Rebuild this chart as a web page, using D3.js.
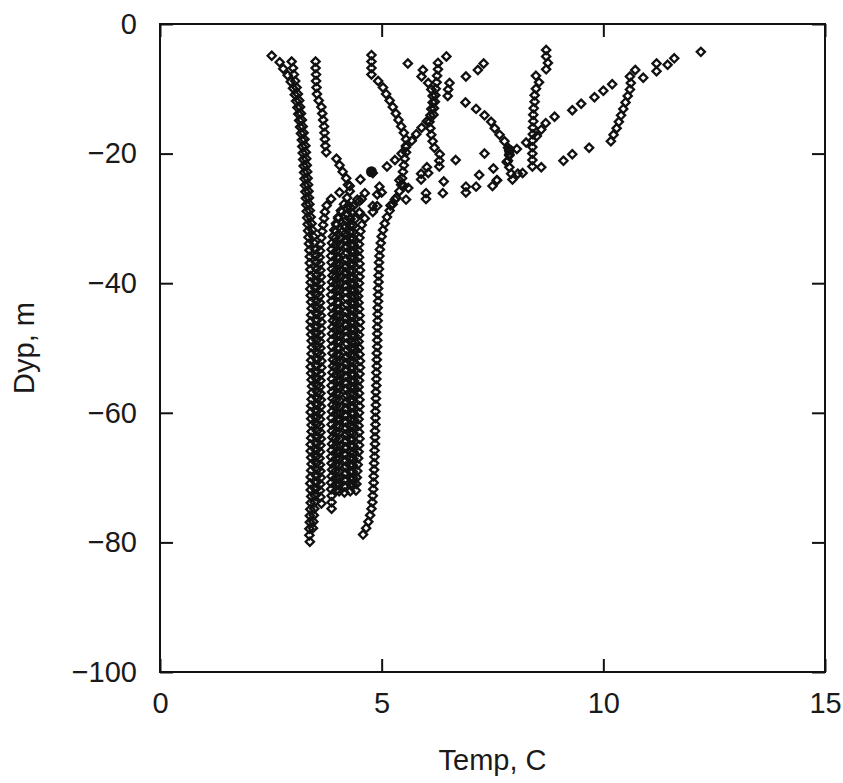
<!DOCTYPE html>
<html>
<head>
<meta charset="utf-8">
<script src="https://cdn.jsdelivr.net/npm/d3@7/dist/d3.min.js"></script>
<style>
  body { margin: 0; background: #fff; }
  text { font-family: "Liberation Sans", Arial, Helvetica, sans-serif; fill: #1a1a1a; }
</style>
</head>
<body>
<svg id="chart" width="843" height="783"></svg>
<script>
// CTD profiles: temperature (C) at 1 m bins, first bin at depth d0 (m)
const p1 = { d0: 4.9, temps: [
  2.52,2.70,2.78,2.88,2.95,3.00,3.04,3.07,3.10,3.12,3.14,3.16,3.18,3.20,3.21,3.22,3.23,3.24,3.25,3.26,
  3.27,3.28,3.29,3.30,3.31,3.32,3.33,3.34,3.35,3.36,
  3.37,3.38,3.38,3.39,3.40,3.40,3.39,3.40,3.41,3.42,3.41,3.40,3.40,3.41,3.42,3.43,3.42,3.41,3.40,3.41,
  3.42,3.43,3.43,3.42,3.41,3.40,3.41,3.42,3.42,3.41,3.40,3.40,3.41,3.42,3.41,3.40,3.39,3.40,3.41,3.40,
  3.39,3.38,3.38,3.37,3.37,3.38] };

const p2 = { d0: 5.8, temps: [
  2.97,3.00,3.02,3.05,3.08,3.11,3.14,3.16,3.18,3.20,3.22,3.24,3.26,3.28,3.29,3.30,3.31,3.32,3.33,3.34,
  3.35,3.36,3.37,3.38,3.40,3.42,3.44,3.46,3.48,3.50,
  3.51,3.52,3.53,3.53,3.52,3.51,3.52,3.53,3.54,3.54,3.53,3.52,3.52,3.53,3.54,3.55,3.54,3.53,3.52,3.53,
  3.54,3.55,3.55,3.54,3.53,3.52,3.53,3.54,3.54,3.53,3.52,3.52,3.53,3.54,3.53,3.52,3.51,3.50,3.49,3.48,
  3.47,3.46,3.45] };

const q1 = { d0: 5.0, temps: [
  6.46,6.27,6.27,6.25,6.24,6.22,6.21,6.20,6.18,6.17,6.02,5.90,5.78,5.68,5.55,5.45,5.30,5.12,4.80,4.52,
  4.28,4.05,3.86,3.76,3.72,3.70,3.68,3.66,3.64,3.62,
  3.61,3.60,3.61,3.62,3.63,3.62,3.61,3.60,3.61,3.62,3.63,3.64,3.63,3.62,3.61,3.62,3.63,3.64,3.64,3.63,
  3.62,3.61,3.62,3.63,3.63,3.62,3.61,3.61,3.62,3.63,3.62,3.61,3.60,3.61,3.62,3.63,3.62,3.61,3.62,3.64] };

const p3 = { d0: 5.8, temps: [
  3.51,3.51,3.52,3.52,3.53,3.54,3.58,3.64,3.66,3.68,3.70,3.71,3.72,3.73,3.75,3.98,4.05,4.12,4.20,4.24,
  4.28,4.22,4.15,4.08,4.02,3.97,3.93,3.90,3.88,
  3.87,3.86,3.87,3.88,3.89,3.88,3.87,3.86,3.87,3.88,3.89,3.90,3.89,3.88,3.87,3.88,3.89,3.90,3.90,3.89,
  3.88,3.87,3.88,3.89,3.89,3.88,3.87,3.87,3.88,3.89,3.88,3.87,3.86,3.87,3.88,3.87,3.86,3.86,3.87,3.87,
  3.87] };

const p4 = { d0: 4.8, temps: [
  4.77,4.77,4.77,4.77,4.92,5.03,5.10,5.18,5.25,5.32,5.38,5.44,5.50,5.55,5.55,5.55,5.52,5.50,5.48,5.46,
  5.44,5.40,5.33,5.25,5.18,5.12,5.07,5.03,5.00,4.98,4.96,
  4.95,4.94,4.94,4.93,4.93,4.92,4.92,4.92,4.91,4.91,4.91,4.90,4.90,4.90,4.90,4.89,4.89,4.89,4.88,4.88,
  4.88,4.87,4.87,4.87,4.86,4.86,4.86,4.85,4.85,4.85,4.84,4.84,4.83,4.83,4.82,4.82,4.81,4.80,4.79,4.77,
  4.74,4.70,4.65,4.58] };

const p5 = { d0: 6.1, temps: [
  5.59,5.93,5.90,6.05,6.12,6.15,6.15,6.12,6.10,6.08,6.10,6.12,6.15,6.19,6.31,6.30,6.02,5.89,5.40,4.95,
  4.62,4.45,4.36,4.32,4.30,
  4.29,4.28,4.29,4.30,4.31,4.30,4.29,4.28,4.29,4.30,4.31,4.32,4.31,4.30,4.29,4.30,4.31,4.32,4.32,4.31,
  4.30,4.29,4.30,4.31,4.31,4.30,4.29,4.29,4.30,4.31,4.30,4.29,4.28,4.29,4.30,4.29,4.28,4.28,4.29,4.30,
  4.30,4.29] };

const r1 = { d0: 6.1, temps: [
  7.30,7.17,6.90,6.53,6.50,6.49,6.89,7.13,7.32,7.47,7.55,7.66,7.77,7.85,7.88,7.85,7.88,7.92,7.60,7.13,
  6.38,5.55,4.90,4.50,4.28,4.15,4.10,4.08,
  4.07,4.06,4.05,4.06,4.07,4.08,4.07,4.06,4.05,4.04,4.05,4.06,4.07,4.08,4.07,4.06,4.05,4.06,4.07,4.08,
  4.08,4.07,4.06,4.05,4.06,4.07,4.07,4.06,4.05,4.05,4.06,4.07,4.06,4.05,4.04,4.05,4.06,4.05,4.04] };

const s1 = { d0: 4.0, temps: [
  8.71,8.71,8.75,8.71,8.48,8.55,8.48,8.45,8.45,8.43,8.42,8.42,8.41,8.41,8.40,8.40,8.40,8.40,8.40,8.18,
  7.95,7.50,6.90,6.00,5.20,4.80,4.62,4.55,4.52,
  4.50,4.49,4.48,4.49,4.50,4.51,4.50,4.49,4.48,4.47,4.48,4.49,4.50,4.51,4.50,4.49,4.48,4.49,4.50,4.51,
  4.51,4.50,4.49,4.48,4.49,4.50,4.50,4.49,4.48,4.48,4.49,4.50,4.49,4.48,4.47,4.46,4.45,4.44,4.43,4.42] };

const t1 = { d0: 4.3, temps: [
  12.20,11.60,11.45,11.20,10.90,10.20,10.00,9.80,9.50,9.30,8.90,8.70,8.60,8.50,8.26,8.05,7.88,7.82,7.52,7.20,
  6.40,5.60,4.90,4.50,4.30,4.22,4.20,
  4.19,4.18,4.19,4.20,4.21,4.20,4.19,4.18,4.17,4.18,4.19,4.20,4.21,4.20,4.19,4.18,4.19,4.20,4.21,4.22,
  4.21,4.20,4.19,4.18,4.19,4.20,4.21,4.20,4.19,4.18,4.18,4.19,4.20,4.19,4.18,4.17,4.18,4.19,4.18,4.17,
  4.16,4.16] };

const u1 = { d0: 6.1, temps: [
  11.20,10.72,10.60,10.62,10.60,10.55,10.50,10.45,10.40,10.35,10.30,10.23,10.17,9.68,9.30,9.10,8.60,8.07,7.60,6.90,
  6.00,5.30,4.80,4.50,4.40,4.36,
  4.35,4.36,4.37,4.38,4.37,4.36,4.35,4.36,4.37,4.38,4.39,4.38,4.37,4.36,4.37,4.38,4.39,4.40,4.39,4.38,
  4.37,4.36,4.37,4.38,4.38,4.37,4.36,4.36,4.37,4.38,4.37,4.36,4.35,4.36,4.37,4.36,4.35,4.35,4.36,4.36] };

// profile whose upper bins were not logged
const v1 = { d0: 20.0, temps: [
  7.32,6.67,6.30,6.05,5.89,5.50,5.00,4.55,4.25,4.10,4.02,3.98,
  3.97,3.96,3.97,3.98,3.99,3.98,3.97,3.96,3.97,3.98,3.99,4.00,3.99,3.98,3.97,3.98,3.99,4.00,4.00,3.99,
  3.98,3.97,3.98,3.99,3.99,3.98,3.97,3.97,3.98,3.99,3.98,3.97,3.96,3.97,3.98,3.97,3.96,3.96,3.97,3.97,
  3.97] };

// spots where many samples pile up (drawn solid)
const darkSpots = [[4.77, -22.8], [7.88, -19.5]];

const profiles = [p1, p2, q1, p3, p4, p5, r1, s1, t1, u1, v1];

const xTicks = [0, 5, 10, 15];
const yTicks = [0, -20, -40, -60, -80, -100];
const xTitle = "Temp, C";
const yTitle = "Dyp, m";

const plotL = 160, plotR = 825, plotT = 24, plotB = 672;

const svg = d3.select("#chart");

const x = d3.scaleLinear().domain([0, 15]).range([plotL, plotR]);
const y = d3.scaleLinear().domain([-100, 0]).range([plotB, plotT]);

const fmt = d => d < 0 ? "\u2212" + Math.abs(d) : String(d);

// axes with inward ticks on all four sides
const tick = 13;
svg.append("g")
    .attr("transform", `translate(0,${plotB})`)
    .call(d3.axisBottom(x).tickValues(xTicks).tickSizeInner(-tick).tickSizeOuter(0).tickPadding(20).tickFormat(fmt))
    .call(g => g.select(".domain").remove());
svg.append("g")
    .attr("transform", `translate(0,${plotT})`)
    .call(d3.axisTop(x).tickValues(xTicks).tickSizeInner(-tick).tickSizeOuter(0).tickFormat(""))
    .call(g => g.select(".domain").remove());
svg.append("g")
    .attr("transform", `translate(${plotL},0)`)
    .call(d3.axisLeft(y).tickValues(yTicks).tickSizeInner(-tick).tickSizeOuter(0).tickPadding(23).tickFormat(fmt))
    .call(g => g.select(".domain").remove());
svg.append("g")
    .attr("transform", `translate(${plotR},0)`)
    .call(d3.axisRight(y).tickValues(yTicks).tickSizeInner(-tick).tickSizeOuter(0).tickFormat(""))
    .call(g => g.select(".domain").remove());

svg.selectAll(".tick line").attr("stroke", "#111").attr("stroke-width", 2);
svg.selectAll(".tick text")
    .style("font-size", "29px")
    .attr("fill", "#1a1a1a");

// frame
svg.append("rect")
    .attr("x", plotL).attr("y", plotT)
    .attr("width", plotR - plotL).attr("height", plotB - plotT)
    .attr("fill", "none").attr("stroke", "#111").attr("stroke-width", 2);

// points
const pts = [];
profiles.forEach((p, k) => {
    p.temps.forEach((t, i) => pts.push({ t: t, d: -(p.d0 + i), k: k }));
});

const r = 4.1;
const diamond = `M0,${-r}L${r},0L0,${r}L${-r},0Z`;

svg.append("g")
    .selectAll("path")
    .data(pts)
    .enter().append("path")
    .attr("d", diamond)
    .attr("transform", d => `translate(${x(d.t)},${y(d.d)})`)
    .attr("fill", "none")
    .attr("stroke", "#111")
    .attr("stroke-width", 2.3);

svg.append("g")
    .selectAll("circle")
    .data(darkSpots)
    .enter().append("circle")
    .attr("cx", d => x(d[0]))
    .attr("cy", d => y(d[1]))
    .attr("r", 5.5)
    .attr("fill", "#111");

// axis titles
svg.append("text")
    .attr("x", (plotL + plotR) / 2)
    .attr("y", 770)
    .attr("text-anchor", "middle")
    .style("font-size", "29px")
    .text(xTitle);

svg.append("text")
    .attr("transform", `translate(34,${(plotT + plotB) / 2}) rotate(-90)`)
    .attr("text-anchor", "middle")
    .style("font-size", "29px")
    .text(yTitle);
</script>
</body>
</html>
